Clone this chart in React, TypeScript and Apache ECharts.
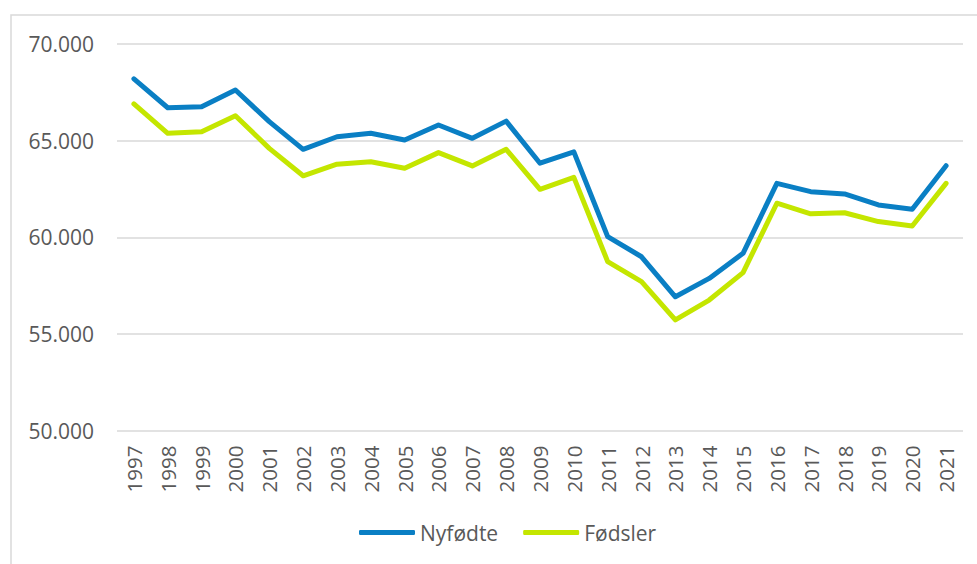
import React, { useEffect, useRef } from "react";
import * as echarts from "echarts";

const years = ["1997","1998","1999","2000","2001","2002","2003","2004","2005","2006","2007","2008","2009","2010","2011","2012","2013","2014","2015","2016","2017","2018","2019","2020","2021"];
const nyfodte = [68200,66700,66750,67620,65980,64550,65200,65380,65030,65810,65120,66010,63830,64420,60030,58990,56920,57870,59170,62790,62360,62240,61670,61450,63700];
const fodsler = [66900,65380,65460,66290,64600,63180,63780,63910,63570,64380,63690,64550,62480,63100,58740,57700,55720,56750,58170,61760,61210,61270,60810,60580,62790];
const seriesNames = ["Nyfødte", "Fødsler"];
const colors = ["#0A7FC4", "#C4E600"];

export default function App() {
  const ref = useRef<HTMLDivElement>(null);
  useEffect(() => {
    if (!ref.current) return;
    const chart = echarts.init(ref.current, null, { renderer: "svg" });
    const font = "'Open Sans', sans-serif";
    chart.setOption({
      animation: false,
      backgroundColor: "#ffffff",
      textStyle: { fontFamily: font },
      graphic: [
        {
          type: "rect",
          shape: { x: 11, y: 15, width: 990, height: 580 },
          style: { fill: "none", stroke: "#d9d9d9", lineWidth: 1.5 },
          silent: true,
        },
      ],
      grid: { left: 117, right: 14, top: 44, bottom: 133.5, containLabel: false },
      legend: {
        left: 354,
        top: 517,
        itemWidth: 56,
        itemHeight: 5,
        itemGap: 25,
        icon: "roundRect",
        textStyle: { color: "#595959", fontSize: 21, fontFamily: font },
        data: seriesNames,
      },
      xAxis: {
        type: "category",
        data: years,
        boundaryGap: true,
        axisLine: { show: false },
        axisTick: { show: false },
        axisLabel: { rotate: 90, color: "#595959", fontSize: 20.5, fontFamily: font, margin: 15, interval: 0 },
      },
      yAxis: {
        type: "value",
        min: 50000,
        max: 70000,
        interval: 5000,
        axisLine: { show: false },
        axisTick: { show: false },
        splitLine: { lineStyle: { color: "#d9d9d9", width: 1.5 } },
        axisLabel: {
          color: "#595959",
          fontSize: 21,
          fontFamily: font,
          margin: 23,
          formatter: (v: number) => (v / 1000).toFixed(3),
        },
      },
      series: [
        {
          name: seriesNames[0],
          type: "line",
          data: nyfodte,
          symbol: "none",
          lineStyle: { color: colors[0], width: 5, cap: "round", join: "round" },
          itemStyle: { color: colors[0] },
          z: 3,
        },
        {
          name: seriesNames[1],
          type: "line",
          data: fodsler,
          symbol: "none",
          lineStyle: { color: colors[1], width: 5, cap: "round", join: "round" },
          itemStyle: { color: colors[1] },
          z: 2,
        },
      ],
    });
    return () => chart.dispose();
  }, []);
  return (
    <div
      ref={ref}
      style={{ position: "fixed", left: 0, top: 0, width: 977, height: 564 }}
    />
  );
}
